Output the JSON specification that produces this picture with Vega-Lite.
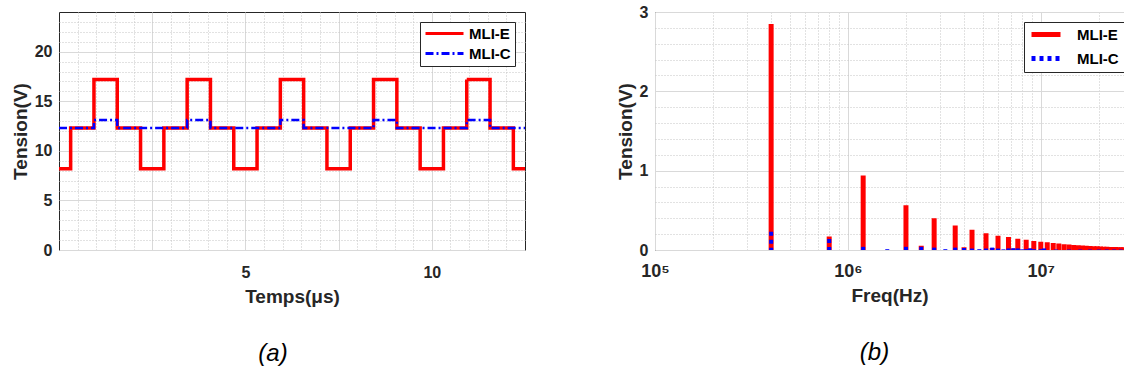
{
  "$schema": "https://vega.github.io/schema/vega-lite/v6.json",
  "background": "white",
  "padding": {"left": 10, "top": 3, "right": 0, "bottom": 0},
  "spacing": 82,
  "resolve": {"scale": {"color": "independent", "strokeDash": "independent"}, "legend": {"color": "independent", "strokeDash": "independent"}},
  "config": {
    "font": "Liberation Sans",
    "view": {"stroke": "#262626", "strokeWidth": 1},
    "axis": {
      "labelFont": "Liberation Sans", "labelFontSize": 16, "labelFontWeight": "bold", "labelColor": "#262626",
      "titleFont": "Liberation Sans", "titleFontSize": 19, "titleFontWeight": "bold", "titleColor": "#262626",
      "domain": false, "ticks": false, "gridColor": "#d9d9d9", "gridWidth": 1,
      "labelFlush": false, "labelOverlap": false
    },
    "legend": {
      "orient": "none", "title": null, "fillColor": "white", "strokeColor": "#262626",
      "padding": 4, "symbolType": "stroke", "labelFont": "Liberation Sans", "labelFontSize": 15,
      "labelFontWeight": "bold", "labelColor": "#000000", "rowPadding": 4, "labelOffset": 4, "clipHeight": 15
    }
  },
  "hconcat": [
    {
      "width": 466, "height": 238,
      "title": {"text": "(a)", "orient": "bottom", "fontSize": 24, "fontStyle": "italic", "fontWeight": "normal", "font": "Liberation Sans", "color": "#000000", "offset": 36, "anchor": "middle", "dx": -19},
      "data": {"values": [
        {"series": "MLI-E", "t": 0, "v": 8.2},
        {"series": "MLI-E", "t": 0.3125, "v": 12.3},
        {"series": "MLI-E", "t": 0.9375, "v": 17.2},
        {"series": "MLI-E", "t": 1.5625, "v": 12.3},
        {"series": "MLI-E", "t": 2.1875, "v": 8.2},
        {"series": "MLI-E", "t": 2.8125, "v": 12.3},
        {"series": "MLI-E", "t": 3.4375, "v": 17.2},
        {"series": "MLI-E", "t": 4.0625, "v": 12.3},
        {"series": "MLI-E", "t": 4.6875, "v": 8.2},
        {"series": "MLI-E", "t": 5.3125, "v": 12.3},
        {"series": "MLI-E", "t": 5.9375, "v": 17.2},
        {"series": "MLI-E", "t": 6.5625, "v": 12.3},
        {"series": "MLI-E", "t": 7.1875, "v": 8.2},
        {"series": "MLI-E", "t": 7.8125, "v": 12.3},
        {"series": "MLI-E", "t": 8.4375, "v": 17.2},
        {"series": "MLI-E", "t": 9.0625, "v": 12.3},
        {"series": "MLI-E", "t": 9.6875, "v": 8.2},
        {"series": "MLI-E", "t": 10.3125, "v": 12.3},
        {"series": "MLI-E", "t": 10.9375, "v": 17.2},
        {"series": "MLI-E", "t": 11.5625, "v": 12.3},
        {"series": "MLI-E", "t": 12.1875, "v": 8.2},
        {"series": "MLI-E", "t": 12.5, "v": 8.2},
        {"series": "MLI-C", "t": 0, "v": 12.3},
        {"series": "MLI-C", "t": 0.9375, "v": 13.1},
        {"series": "MLI-C", "t": 1.5625, "v": 12.3},
        {"series": "MLI-C", "t": 3.4375, "v": 13.1},
        {"series": "MLI-C", "t": 4.0625, "v": 12.3},
        {"series": "MLI-C", "t": 5.9375, "v": 13.1},
        {"series": "MLI-C", "t": 6.5625, "v": 12.3},
        {"series": "MLI-C", "t": 8.4375, "v": 13.1},
        {"series": "MLI-C", "t": 9.0625, "v": 12.3},
        {"series": "MLI-C", "t": 10.9375, "v": 13.1},
        {"series": "MLI-C", "t": 11.5625, "v": 12.3},
        {"series": "MLI-C", "t": 12.5, "v": 12.3}
      ]},
      "layer": [
        {
          "transform": [{"filter": "datum.series == 'MLI-E'"}],
          "mark": {"type": "line", "interpolate": "step-after", "strokeWidth": 3.5},
          "encoding": {
            "x": {"field": "t", "type": "quantitative", "scale": {"domain": [0, 12.5], "nice": false, "zero": false},
              "axis": {"orient": "bottom", "title": "Temps(μs)", "values": [2.5, 5, 7.5, 10], "labelExpr": "datum.value == 5 || datum.value == 10 ? datum.label : ''", "grid": true, "labelPadding": 14, "titlePadding": 7}},
            "y": {"field": "v", "type": "quantitative", "scale": {"domain": [0, 24], "nice": false},
              "axis": {"orient": "left", "title": "Tension(V)", "values": [0, 5, 10, 15, 20], "grid": true, "labelPadding": 7, "titlePadding": 4}},
            "color": {"field": "series", "type": "nominal", "scale": {"domain": ["MLI-E", "MLI-C"], "range": ["#ff0000", "#0000ff"]},
              "legend": {"legendX": 361, "legendY": 10, "symbolSize": 1444, "symbolStrokeWidth": 3}},
            "strokeDash": {"field": "series", "type": "nominal", "scale": {"domain": ["MLI-E", "MLI-C"], "range": [[1, 0], [8, 3, 2, 3]]}}
          }
        },
        {
          "transform": [{"filter": "datum.series == 'MLI-C'"}],
          "mark": {"type": "line", "interpolate": "step-after", "strokeWidth": 2.5},
          "encoding": {
            "x": {"field": "t", "type": "quantitative", "scale": {"domain": [0, 12.5], "nice": false, "zero": false},
              "axis": {"orient": "top", "title": "", "labels": false, "values": [0.5, 1, 1.5, 2, 3, 3.5, 4, 4.5, 5.5, 6, 6.5, 7, 8, 8.5, 9, 9.5, 10.5, 11, 11.5, 12], "grid": true, "gridDash": [1, 2], "gridColor": "#c4c4c4"}},
            "y": {"field": "v", "type": "quantitative", "scale": {"domain": [0, 24], "nice": false},
              "axis": {"orient": "right", "title": "", "labels": false, "values": [1, 2, 3, 4, 6, 7, 8, 9, 11, 12, 13, 14, 16, 17, 18, 19, 21, 22, 23], "grid": true, "gridDash": [1, 2], "gridColor": "#c4c4c4"}},
            "color": {"field": "series", "type": "nominal", "scale": {"domain": ["MLI-E", "MLI-C"], "range": ["#ff0000", "#0000ff"]},
              "legend": {"legendX": 361, "legendY": 10, "symbolSize": 1444, "symbolStrokeWidth": 3}},
            "strokeDash": {"field": "series", "type": "nominal", "scale": {"domain": ["MLI-E", "MLI-C"], "range": [[1, 0], [8, 3, 2, 3]]}}
          }
        }
      ],
      "resolve": {"axis": {"x": "independent", "y": "independent"}}
    },
    {
      "width": 469, "height": 238,
      "title": {"text": "(b)", "orient": "bottom", "fontSize": 24, "fontStyle": "italic", "fontWeight": "normal", "font": "Liberation Sans", "color": "#000000", "offset": 36, "anchor": "middle", "dx": -15},
      "data": {"values": [
        {"series": "MLI-E", "f": 400000, "v": 2.85},
        {"series": "MLI-E", "f": 800000, "v": 0.17},
        {"series": "MLI-E", "f": 1200000, "v": 0.94},
        {"series": "MLI-E", "f": 2000000, "v": 0.565},
        {"series": "MLI-E", "f": 2400000, "v": 0.055},
        {"series": "MLI-E", "f": 2800000, "v": 0.4},
        {"series": "MLI-E", "f": 3600000, "v": 0.31},
        {"series": "MLI-E", "f": 4000000, "v": 0.035},
        {"series": "MLI-E", "f": 4400000, "v": 0.255},
        {"series": "MLI-E", "f": 5200000, "v": 0.21},
        {"series": "MLI-E", "f": 5600000, "v": 0.025},
        {"series": "MLI-E", "f": 6000000, "v": 0.18},
        {"series": "MLI-E", "f": 6800000, "v": 0.163},
        {"series": "MLI-E", "f": 7200000, "v": 0.02},
        {"series": "MLI-E", "f": 7600000, "v": 0.142},
        {"series": "MLI-E", "f": 8400000, "v": 0.128},
        {"series": "MLI-E", "f": 8800000, "v": 0.02},
        {"series": "MLI-E", "f": 9200000, "v": 0.114},
        {"series": "MLI-E", "f": 10000000, "v": 0.105},
        {"series": "MLI-E", "f": 10800000, "v": 0.097},
        {"series": "MLI-E", "f": 11600000, "v": 0.089},
        {"series": "MLI-E", "f": 12400000, "v": 0.081},
        {"series": "MLI-E", "f": 13200000, "v": 0.074},
        {"series": "MLI-E", "f": 14000000, "v": 0.068},
        {"series": "MLI-E", "f": 14800000, "v": 0.063},
        {"series": "MLI-E", "f": 15600000, "v": 0.059},
        {"series": "MLI-E", "f": 16400000, "v": 0.056},
        {"series": "MLI-E", "f": 17200000, "v": 0.053},
        {"series": "MLI-E", "f": 18000000, "v": 0.05},
        {"series": "MLI-E", "f": 18800000, "v": 0.048},
        {"series": "MLI-E", "f": 19600000, "v": 0.046},
        {"series": "MLI-E", "f": 20400000, "v": 0.044},
        {"series": "MLI-E", "f": 21200000, "v": 0.042},
        {"series": "MLI-E", "f": 22000000, "v": 0.04},
        {"series": "MLI-E", "f": 22800000, "v": 0.039},
        {"series": "MLI-E", "f": 23600000, "v": 0.038},
        {"series": "MLI-E", "f": 24400000, "v": 0.037},
        {"series": "MLI-E", "f": 25200000, "v": 0.036},
        {"series": "MLI-E", "f": 26000000, "v": 0.035},
        {"series": "MLI-E", "f": 26800000, "v": 0.034},
        {"series": "MLI-C", "f": 400000, "v": 0.23},
        {"series": "MLI-C", "f": 800000, "v": 0.14},
        {"series": "MLI-C", "f": 1200000, "v": 0.04},
        {"series": "MLI-C", "f": 1600000, "v": 0.01},
        {"series": "MLI-C", "f": 2000000, "v": 0.04},
        {"series": "MLI-C", "f": 2400000, "v": 0.04},
        {"series": "MLI-C", "f": 2800000, "v": 0.03},
        {"series": "MLI-C", "f": 3200000, "v": 0.01},
        {"series": "MLI-C", "f": 3600000, "v": 0.03},
        {"series": "MLI-C", "f": 4000000, "v": 0.025},
        {"series": "MLI-C", "f": 4400000, "v": 0.018},
        {"series": "MLI-C", "f": 4800000, "v": 0.01},
        {"series": "MLI-C", "f": 5200000, "v": 0.018},
        {"series": "MLI-C", "f": 5600000, "v": 0.03},
        {"series": "MLI-C", "f": 6000000, "v": 0.018},
        {"series": "MLI-C", "f": 6400000, "v": 0.008},
        {"series": "MLI-C", "f": 6800000, "v": 0.02},
        {"series": "MLI-C", "f": 7200000, "v": 0.022},
        {"series": "MLI-C", "f": 7600000, "v": 0.02},
        {"series": "MLI-C", "f": 8000000, "v": 0.008},
        {"series": "MLI-C", "f": 8400000, "v": 0.01},
        {"series": "MLI-C", "f": 8800000, "v": 0.02},
        {"series": "MLI-C", "f": 9200000, "v": 0.01},
        {"series": "MLI-C", "f": 10000000, "v": 0.01},
        {"series": "MLI-C", "f": 10400000, "v": 0.02},
        {"series": "MLI-C", "f": 12000000, "v": 0.006},
        {"series": "MLI-C", "f": 14000000, "v": 0.006},
        {"series": "MLI-C", "f": 16000000, "v": 0.006},
        {"series": "MLI-C", "f": 18000000, "v": 0.006},
        {"series": "MLI-C", "f": 20000000, "v": 0.006},
        {"series": "MLI-C", "f": 22000000, "v": 0.006},
        {"series": "MLI-C", "f": 24000000, "v": 0.006},
        {"series": "MLI-C", "f": 26000000, "v": 0.006}
      ]},
      "layer": [
        {
          "transform": [{"filter": "datum.series == 'MLI-E'"}],
          "mark": {"type": "rule", "strokeCap": "butt", "strokeWidth": 5},
          "encoding": {
            "x": {"field": "f", "type": "quantitative", "scale": {"type": "log", "domain": [100000, 27000000], "nice": false},
              "axis": {"orient": "bottom", "title": "Freq(Hz)", "values": [100000, 1000000, 10000000], "labelExpr": "datum.value == 100000 ? '10⁵' : datum.value == 1000000 ? '10⁶' : '10⁷'", "labelFontSize": 18, "grid": true, "labelPadding": 12, "titlePadding": 6}},
            "y": {"field": "v", "type": "quantitative", "scale": {"domain": [0, 3], "nice": false},
              "axis": {"orient": "left", "title": "Tension(V)", "values": [0, 1, 2, 3], "grid": true, "labelPadding": 7, "titlePadding": 4}},
            "y2": {"datum": 0},
            "color": {"field": "series", "type": "nominal", "scale": {"domain": ["MLI-E", "MLI-C"], "range": ["#ff0000", "#0000ff"]},
              "legend": {"legendX": 369, "legendY": 10, "symbolSize": 841, "symbolStrokeWidth": 5, "rowPadding": 8, "labelOffset": 14, "padding": 5}},
            "strokeDash": {"field": "series", "type": "nominal", "scale": {"domain": ["MLI-E", "MLI-C"], "range": [[1, 0], [4, 4]]}}
          }
        },
        {
          "transform": [{"filter": "datum.series == 'MLI-C'"}],
          "mark": {"type": "rule", "strokeCap": "butt", "strokeWidth": 4},
          "encoding": {
            "x": {"field": "f", "type": "quantitative", "scale": {"type": "log", "domain": [100000, 27000000], "nice": false},
              "axis": {"orient": "top", "title": "", "labels": false, "values": [200000, 300000, 400000, 500000, 600000, 700000, 800000, 900000, 2000000, 3000000, 4000000, 5000000, 6000000, 7000000, 8000000, 9000000, 20000000], "grid": true, "gridDash": [1, 2], "gridColor": "#c4c4c4"}},
            "y": {"field": "v", "type": "quantitative", "scale": {"domain": [0, 3], "nice": false},
              "axis": {"orient": "right", "title": "", "labels": false, "values": [0.2, 0.4, 0.6, 0.8, 1.2, 1.4, 1.6, 1.8, 2.2, 2.4, 2.6, 2.8], "grid": true, "gridDash": [1, 2], "gridColor": "#c4c4c4"}},
            "y2": {"datum": 0},
            "color": {"field": "series", "type": "nominal", "scale": {"domain": ["MLI-E", "MLI-C"], "range": ["#ff0000", "#0000ff"]},
              "legend": {"legendX": 369, "legendY": 10, "symbolSize": 841, "symbolStrokeWidth": 5, "rowPadding": 8, "labelOffset": 14, "padding": 5}},
            "strokeDash": {"field": "series", "type": "nominal", "scale": {"domain": ["MLI-E", "MLI-C"], "range": [[1, 0], [4, 4]]}}
          }
        }
      ],
      "resolve": {"axis": {"x": "independent", "y": "independent"}}
    }
  ]
}
